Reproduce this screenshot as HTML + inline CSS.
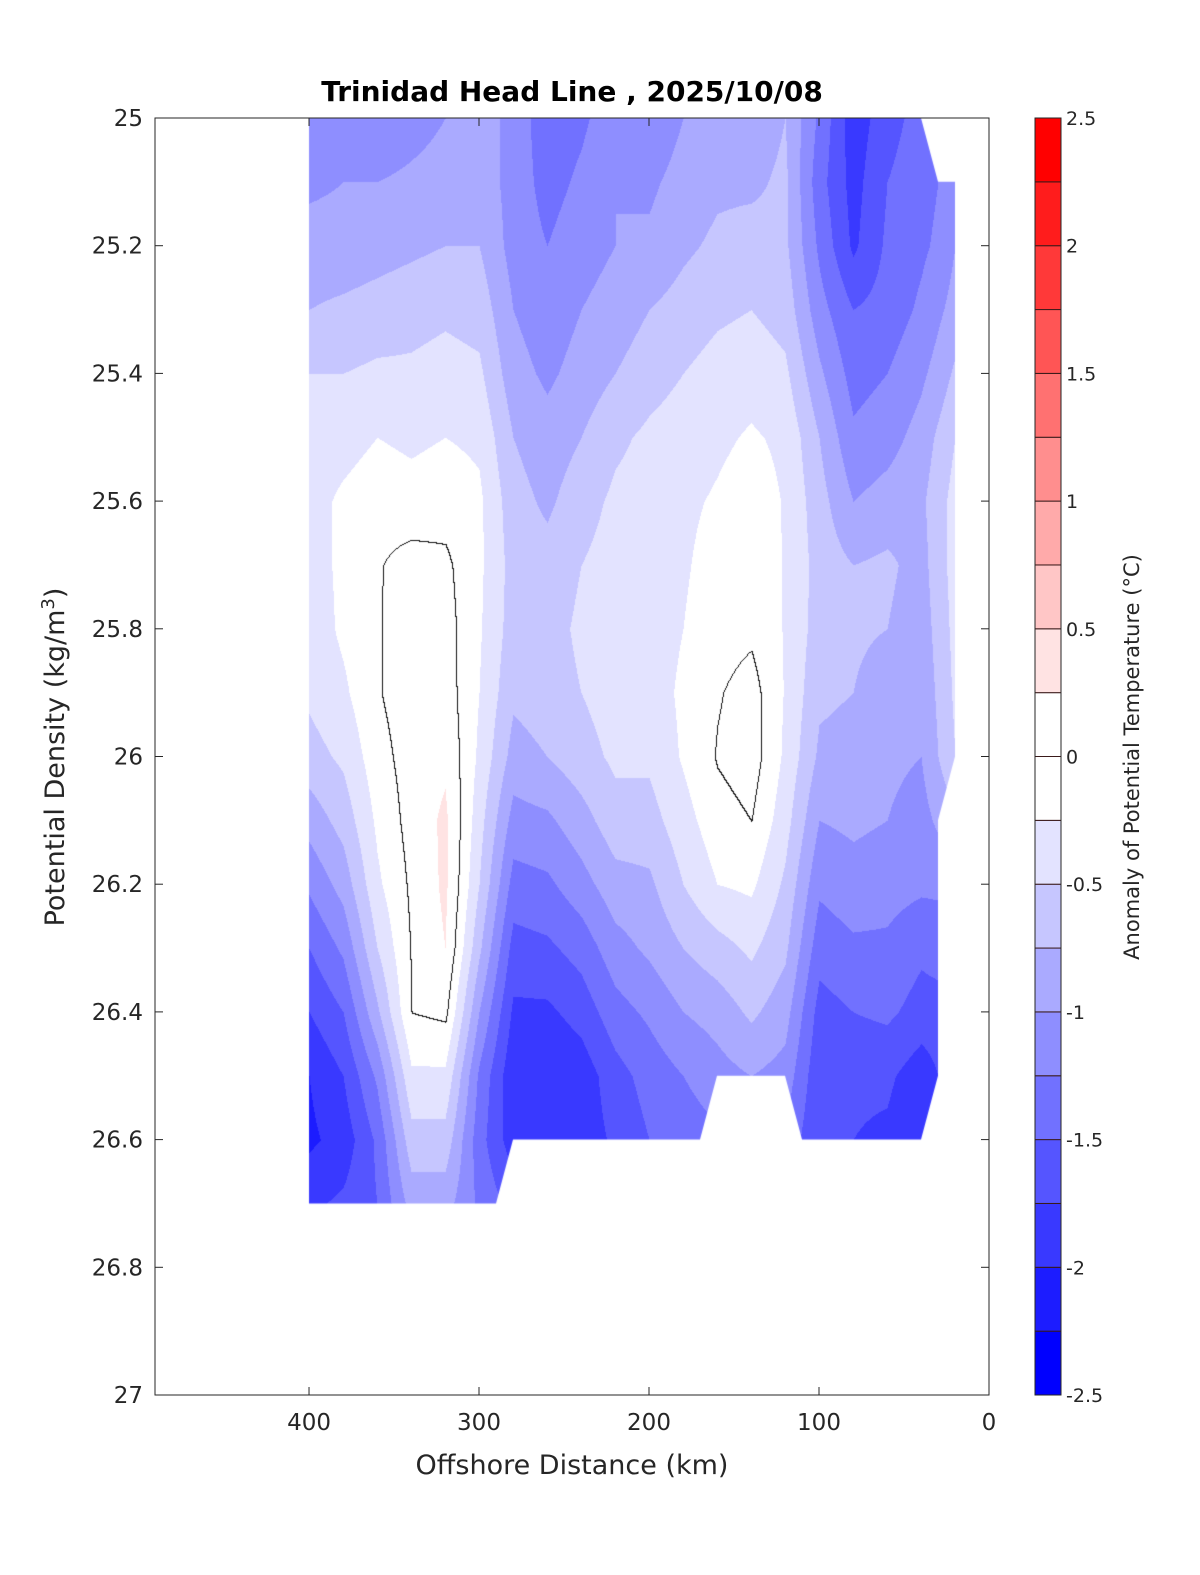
<!DOCTYPE html>
<html><head><meta charset="utf-8"><style>
html,body{margin:0;padding:0;background:#fff;}
#wrap{position:relative;width:1200px;height:1575px;font-family:"DejaVu Sans","Liberation Sans",sans-serif;}
canvas,svg{position:absolute;left:0;top:0;}
</style></head><body>
<div id="wrap">
<canvas id="cv" width="1200" height="1575"></canvas>
<svg id="sv" width="1200" height="1575"></svg>
</div>
<script>
const distances=[400,380,360,340,320,300,280,260,240,220,200,180,160,140,120,100,80,60,40,30,20];
const densities=[25.0,25.1,25.2,25.3,25.4,25.5,25.6,25.7,25.8,25.9,26.0,26.1,26.2,26.3,26.4,26.5,26.6,26.7];
const anomalyCols=[
[-1.1,-1.05,-0.9,-0.75,-0.5,-0.4,-0.35,-0.35,-0.4,-0.45,-0.6,-0.9,-1.2,-1.5,-1.75,-2.0,-2.05,-1.8],
[-1.1,-1.0,-0.9,-0.7,-0.5,-0.35,-0.2,-0.2,-0.2,-0.3,-0.45,-0.65,-0.9,-1.2,-1.5,-1.75,-1.9,-1.7],
[-1.2,-1.0,-0.85,-0.65,-0.45,-0.25,-0.1,-0.02,-0.02,-0.02,-0.1,-0.2,-0.3,-0.5,-0.8,-1.2,-1.45,-1.5],
[-1.1,-0.95,-0.8,-0.6,-0.45,-0.3,-0.15,0.1,0.15,0.15,0.12,0.1,0.05,0.02,0.0,-0.3,-0.6,-0.9],
[-1.0,-0.9,-0.75,-0.55,-0.4,-0.25,-0.1,0.05,0.1,0.12,0.2,0.3,0.3,0.25,0.05,-0.3,-0.6,-0.9],
[-0.85,-0.85,-0.75,-0.6,-0.45,-0.3,-0.2,-0.2,-0.22,-0.25,-0.3,-0.4,-0.5,-0.7,-1.0,-1.3,-1.4,-1.3],
[-1.1,-1.1,-1.1,-1.0,-0.9,-0.75,-0.65,-0.6,-0.62,-0.7,-0.85,-1.1,-1.35,-1.6,-1.8,-1.95,-1.9,-1.6],
[-1.4,-1.35,-1.25,-1.15,-1.05,-0.9,-0.8,-0.65,-0.6,-0.62,-0.75,-1.05,-1.3,-1.55,-1.8,-2.0,-1.98,-1.8],
[-1.3,-1.2,-1.1,-1.0,-0.9,-0.75,-0.6,-0.5,-0.45,-0.5,-0.6,-0.85,-1.1,-1.4,-1.65,-1.9,-1.9,-1.7],
[-1.1,-1.0,-1.0,-0.9,-0.75,-0.55,-0.45,-0.4,-0.38,-0.38,-0.45,-0.6,-0.85,-1.1,-1.35,-1.6,-1.7,-1.6],
[-1.2,-1.05,-0.95,-0.75,-0.6,-0.45,-0.4,-0.38,-0.38,-0.38,-0.45,-0.6,-0.8,-0.95,-1.2,-1.4,-1.5,-1.5],
[-1.0,-0.9,-0.8,-0.65,-0.5,-0.38,-0.3,-0.28,-0.25,-0.2,-0.22,-0.35,-0.5,-0.75,-1.0,-1.25,-1.4,-1.4],
[-0.85,-0.8,-0.7,-0.55,-0.4,-0.3,-0.22,-0.15,-0.1,-0.02,0.02,-0.1,-0.25,-0.6,-0.9,-1.1,-1.3,-1.3],
[-0.9,-0.8,-0.65,-0.5,-0.35,-0.22,-0.12,-0.08,-0.05,0.1,0.12,0.0,-0.2,-0.45,-0.7,-1.0,-1.2,-1.3],
[-0.75,-0.7,-0.7,-0.6,-0.45,-0.3,-0.27,-0.27,-0.27,-0.27,-0.3,-0.4,-0.55,-0.7,-0.9,-1.1,-1.3,-1.4],
[-1.3,-1.4,-1.3,-1.15,-0.95,-0.75,-0.65,-0.6,-0.62,-0.7,-0.8,-1.0,-1.2,-1.4,-1.6,-1.7,-1.75,-1.8],
[-1.9,-1.85,-1.8,-1.5,-1.35,-1.2,-1.0,-0.75,-0.7,-0.75,-0.85,-0.95,-1.1,-1.3,-1.5,-1.7,-1.75,-1.8],
[-1.6,-1.5,-1.45,-1.4,-1.25,-1.1,-0.9,-0.7,-0.75,-0.9,-0.95,-1.0,-1.15,-1.3,-1.45,-1.7,-1.8,-1.8],
[-1.4,-1.35,-1.3,-1.2,-1.05,-0.9,-0.8,-0.85,-0.9,-0.95,-1.0,-1.1,-1.2,-1.45,-1.6,-1.9,-2.0,-2.0],
[-1.3,-1.25,-1.2,-1.05,-0.9,-0.7,-0.6,-0.6,-0.65,-0.7,-0.75,-0.95,-1.2,-1.4,-1.6,-1.75,-1.8,-1.8],
[-1.2,-1.1,-1.0,-0.9,-0.7,-0.5,-0.4,-0.4,-0.42,-0.45,-0.5,-0.8,-1.0,-1.2,-1.4,-1.5,-1.5,-1.5]
];
const outlineKm=[400,40,30,20,20,30,30,40,110,120,160,170,280,290,400];
const outlineDen=[25.0,25.0,25.1,25.1,26.0,26.1,26.5,26.6,26.6,26.5,26.5,26.6,26.6,26.7,26.7];
const xTicks=[400,300,200,100,0];
const yTicks=[25,25.2,25.4,25.6,25.8,26,26.2,26.4,26.6,26.8,27];
const cbTicks=[-2.5,-2,-1.5,-1,-0.5,0,0.5,1,1.5,2,2.5];

const L=155,R=989,T=118,B=1395,XMAX=490.6;
const xs=km=>R-(km/XMAX)*(R-L);
const ys=d=>T+(d-25)/2*(B-T);
const CBX=1035,CBW=26;
const cbY=v=>B-(v+2.5)/5*(B-T);
function levelColor(v){
  let k=Math.floor((v+2.5)/0.25); k=Math.max(0,Math.min(19,k));
  if(k<10){const c=Math.round(k*255/9);return [c,c,255];}
  const c=Math.round((19-k)*255/9);return [255,c,c];
}
function colStr(c){return 'rgb('+c[0]+','+c[1]+','+c[2]+')';}
function val(km,d){
  let i=0; while(i<distances.length-2 && km<distances[i+1]) i++;
  let tx=(distances[i]-km)/(distances[i]-distances[i+1]); tx=Math.max(0,Math.min(1,tx));
  let j=Math.floor((d-25)/0.1+1e-9); j=Math.max(0,Math.min(densities.length-2,j));
  let ty=(d-densities[j])/(densities[j+1]-densities[j]); ty=Math.max(0,Math.min(1,ty));
  const a=anomalyCols[i][j],b=anomalyCols[i+1][j],c=anomalyCols[i][j+1],e=anomalyCols[i+1][j+1];
  return a*(1-tx)*(1-ty)+b*tx*(1-ty)+c*(1-tx)*ty+e*tx*ty;
}
const cv=document.getElementById('cv'),ctx=cv.getContext('2d');
const x0=Math.floor(xs(400)),x1=Math.ceil(xs(20)),y0=T,y1=Math.ceil(ys(26.7));
const W=x1-x0+1,H=y1-y0+1;
const vals=new Float32Array(W*H);
for(let py=0;py<H;py++)for(let px=0;px<W;px++){
  const km=(R-(x0+px))/(R-L)*XMAX, d=25+(y0+py-T)/(B-T)*2;
  vals[py*W+px]=val(km,d);
}
const img=ctx.createImageData(W,H);
for(let p=0;p<W*H;p++){
  const c=levelColor(vals[p]);
  img.data[p*4]=c[0];img.data[p*4+1]=c[1];img.data[p*4+2]=c[2];img.data[p*4+3]=255;
}
for(let py=1;py<H;py++)for(let px=1;px<W;px++){
  const v=vals[py*W+px],a=vals[py*W+px-1],b=vals[(py-1)*W+px];
  if((v>=0)!==(a>=0)||(v>=0)!==(b>=0)){const p=py*W+px;img.data[p*4]=20;img.data[p*4+1]=20;img.data[p*4+2]=20;}
}
const off=document.createElement('canvas');off.width=W;off.height=H;
off.getContext('2d').putImageData(img,0,0);
ctx.save();ctx.beginPath();
for(let k=0;k<outlineKm.length;k++){const X=xs(outlineKm[k]),Y=ys(outlineDen[k]);k?ctx.lineTo(X,Y):ctx.moveTo(X,Y);}
ctx.closePath();ctx.clip();ctx.drawImage(off,x0,y0);ctx.restore();

const NS='http://www.w3.org/2000/svg',sv=document.getElementById('sv');
function mk(tag,attrs,txt){const e=document.createElementNS(NS,tag);for(const k in attrs)e.setAttribute(k,attrs[k]);if(txt!==undefined)e.textContent=txt;sv.appendChild(e);return e;}
let e;
e=mk('rect',{x:L,y:T,width:R-L,height:B-T,fill:'none',stroke:'#262626','stroke-width':1});


xTicks.forEach(t=>{
  const X=xs(t);
  e=mk('line',{x1:X,x2:X,y1:B,y2:B-8,stroke:'#262626'});
  
  
  e=mk('line',{x1:X,x2:X,y1:T,y2:T+8,stroke:'#262626'});
  
  
  e=mk('text',{x:X,y:B+35,'text-anchor':'middle','font-size':23,fill:'#262626'},String(t));
  
  
});
yTicks.forEach(t=>{
  const Y=ys(t);
  e=mk('line',{x1:L,x2:L+8,y1:Y,y2:Y,stroke:'#262626'});
  
  
  e=mk('line',{x1:R,x2:R-8,y1:Y,y2:Y,stroke:'#262626'});
  
  
  e=mk('text',{x:L-12,y:Y+8,'text-anchor':'end','font-size':23,fill:'#262626'},String(t));
  
  
});
e=mk('text',{x:572,y:101,'text-anchor':'middle','font-size':28,'font-weight':'bold',fill:'#000'},'Trinidad Head Line , 2025/10/08');


e=mk('text',{x:572,y:1474,'text-anchor':'middle','font-size':27,fill:'#262626'},'Offshore Distance (km)');


e=mk('text',{x:0,y:0,'text-anchor':'middle','font-size':27,fill:'#262626',transform:'translate(64,757) rotate(-90)'});


e.innerHTML='Potential Density (kg/m<tspan dy="-10" font-size="18">3</tspan><tspan dy="10">)</tspan>';
for(let k=0;k<20;k++){
  const v=-2.5+k*0.25;
  e=mk('rect',{x:CBX,y:cbY(v+0.25),width:CBW,height:cbY(v)-cbY(v+0.25),fill:colStr(levelColor(v+0.1)),stroke:'#3a1a1a','stroke-width':1});
  
  
}
e=mk('rect',{x:CBX,y:T,width:CBW,height:B-T,fill:'none',stroke:'#262626'});


cbTicks.forEach(t=>{
  e=mk('text',{x:CBX+CBW+5,y:cbY(t)+7,'font-size':19,fill:'#262626'},String(t));
  
  
});
e=mk('text',{x:0,y:0,'text-anchor':'middle','font-size':21,fill:'#262626',transform:'translate(1139,757) rotate(-90)'},'Anomaly of Potential Temperature (°C)');


</script>
</body></html>
